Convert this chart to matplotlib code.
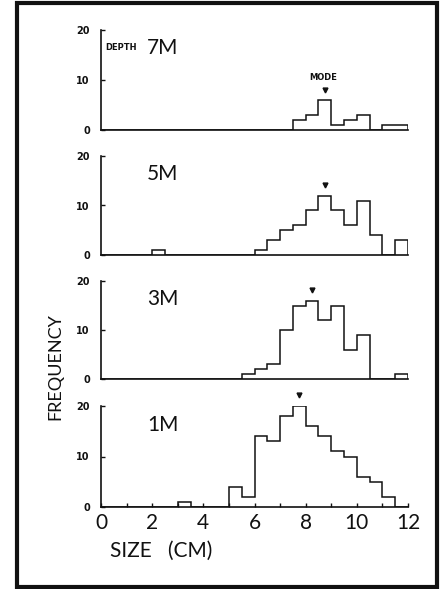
import numpy as np
import matplotlib
matplotlib.use("Agg")
import matplotlib.pyplot as plt
from matplotlib.patches import Rectangle

# ---- data (counts per 0.5 cm size class, 0-12 cm) ----
bin_edges = [i * 0.5 for i in range(25)]
depths = ["7M", "5M", "3M", "1M"]
counts_7m = [0, 0, 0, 0, 0, 0, 0, 0, 0, 0, 0, 0, 0, 0, 0, 2, 3, 6, 1, 2, 3, 0, 1, 1]
counts_5m = [0, 0, 0, 0, 1, 0, 0, 0, 0, 0, 0, 0, 1, 3, 5, 6, 9, 12, 9, 6, 11, 4, 0, 3]
counts_3m = [0, 0, 0, 0, 0, 0, 0, 0, 0, 0, 0, 1, 2, 3, 10, 15, 16, 12, 15, 6, 9, 0, 0, 1]
counts_1m = [0, 0, 0, 0, 0, 0, 1, 0, 0, 0, 4, 2, 14, 13, 18, 20, 16, 14, 11, 10, 6, 5, 2, 0]
all_counts = [counts_7m, counts_5m, counts_3m, counts_1m]
y_ticks = [0, 10, 20]
x_tick_labels = ["0", "2", "4", "6", "8", "10", "12"]

plt.rcParams['font.family'] = ['Lato', 'DejaVu Sans']
INK = "#111111"

W, H = 442, 589
fig = plt.figure(figsize=(W / 100, H / 100), dpi=100)
fig.patch.set_facecolor("white")

# outer frame
fig.patches.append(Rectangle((17 / W, 2 / H), (437 - 17) / W, (586 - 2) / H,
                             transform=fig.transFigure, fill=False,
                             edgecolor=INK, linewidth=3.0))

# axes positions (pixel rows of y=0 and y=20)
rows = [(130, 30), (255, 156), (379, 281), (507, 406)]
x0_px, x12_px = 101, 408

for k, (depth, counts) in enumerate(zip(depths, all_counts)):
    y0, y20 = rows[k]
    ax = fig.add_axes([x0_px / W, 1 - y0 / H, (x12_px - x0_px) / W, (y0 - y20) / H])
    ax.set_facecolor("none")
    ax.stairs(counts, bin_edges, baseline=0, fill=False, color=INK,
              linewidth=1.1)
    ax.set_xlim(0, 12)
    ax.set_ylim(0, 20)
    for s in ["top", "right"]:
        ax.spines[s].set_visible(False)
    for s in ["left", "bottom"]:
        ax.spines[s].set_linewidth(1.2)
        ax.spines[s].set_color(INK)
    ax.set_yticks(y_ticks)
    ax.set_yticklabels([str(v) for v in y_ticks], fontsize=7, fontweight="bold",
                       family="DejaVu Sans", color=INK)
    ax.tick_params(axis="y", direction="in", length=3, width=1.0, pad=8,
                   color=INK)
    if k < 3:
        ax.set_xticks([])
    else:
        ax.set_xticks(range(0, 13))
        ax.set_xticklabels([x_tick_labels[i // 2] if i % 2 == 0 else "" for i in range(13)],
                           fontsize=15, fontweight="normal", color=INK)
        ax.tick_params(axis="x", direction="in", length=3, width=1.0, pad=4,
                       color=INK)
    ax.text(1.8, 16.3, depth, fontsize=15, fontweight="normal", va="center",
            ha="left", color=INK)
    # mode marker
    imax = int(np.argmax(counts))
    xm = (bin_edges[imax] + bin_edges[imax + 1]) / 2
    ax.plot([xm], [counts[imax] + 2.1], marker="v", markersize=3.5,
            color=INK, clip_on=False)
    if k == 0:
        ax.text(0.17, 16.6, "DEPTH", fontsize=6, fontweight="bold",
                family="DejaVu Sans", va="center", ha="left", color=INK)
        ax.text(xm - 0.08, 10.4, "MODE", fontsize=6, fontweight="bold",
                family="DejaVu Sans", va="center", ha="center", color=INK)

fig.text(55 / W, 1 - 367 / H, "FREQUENCY", rotation=90, fontsize=13,
         fontweight="normal", va="center", ha="center", color=INK)
fig.text(110 / W, 1 - 551 / H, "SIZE   (CM)", fontsize=15, fontweight="normal",
         va="center", ha="left", color=INK)

fig.savefig("out.png", dpi=100)
